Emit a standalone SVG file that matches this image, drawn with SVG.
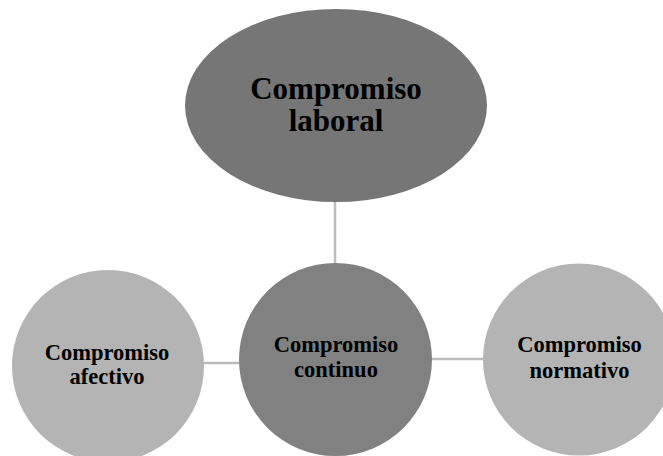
<svg xmlns="http://www.w3.org/2000/svg" width="663" height="456" viewBox="0 0 663 456">
<style>
.c{stroke:#bcbcbc;stroke-width:2.5;fill:none}
.t{font-family:"Liberation Serif","Times New Roman",serif;font-weight:bold;fill:#000;text-anchor:middle}
.s{font-size:22.5px}
.b{font-size:31px}
</style>
<rect width="663" height="456" fill="#fff"/>
<g id="connectors">
<line class="c" x1="335" y1="201" x2="335" y2="264"/>
<line class="c" x1="203" y1="363" x2="240" y2="363"/>
<line class="c" x1="431" y1="359" x2="484" y2="359"/>
</g>
<g id="laboral">
<ellipse cx="336" cy="105.5" rx="151" ry="96.5" fill="#767676"/>
<text class="t b" x="336" y="99">Compromiso</text>
<text class="t b" x="336" y="131">laboral</text>
</g>
<g id="afectivo">
<circle cx="108" cy="366" r="96" fill="#b4b4b4"/>
<text class="t s" x="107" y="360">Compromiso</text>
<text class="t s" x="107" y="384">afectivo</text>
</g>
<g id="continuo">
<circle cx="335.5" cy="359.5" r="96.5" fill="#818181"/>
<text class="t s" x="336" y="352">Compromiso</text>
<text class="t s" x="336" y="377">continuo</text>
</g>
<g id="normativo">
<circle cx="579" cy="359.5" r="96" fill="#b4b4b4"/>
<text class="t s" x="579.5" y="352">Compromiso</text>
<text class="t s" x="579.5" y="378">normativo</text>
</g>
</svg>
